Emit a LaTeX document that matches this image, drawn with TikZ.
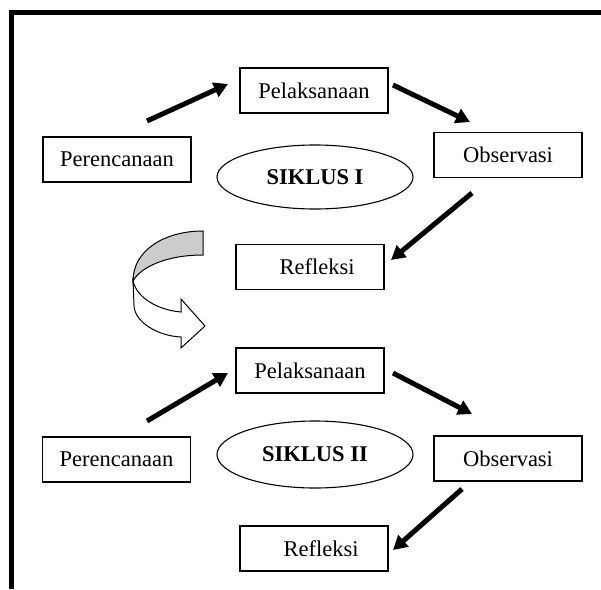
\documentclass[tikz,border=0pt]{standalone}
\usepackage{fontspec}
\setmainfont{Liberation Serif}
\usetikzlibrary{arrows.meta,shapes.geometric}
\tikzset{
  stagebox/.style={draw=black, line width=1.1pt, rectangle, minimum width=148pt, minimum height=45pt, inner sep=0pt, font=\fontsize{22.5}{27}\selectfont},
  cyclebox/.style={draw=black, line width=1.1pt, ellipse, minimum width=196pt, inner sep=0pt, font=\fontsize{22.5}{27}\selectfont\bfseries},
  flow/.style={line width=5pt, -{Triangle[length=14pt,width=15pt]}},
  frameline/.style={line width=5.5pt}
}
\begin{document}
\begin{tikzpicture}[x=1pt,y=-1pt]
\useasboundingbox (0,0) rectangle (601,589);
% frame
\coordinate (ftl) at (11.5,12.5);
\coordinate (ftr) at (601,12.5);
\coordinate (fbl) at (11.5,589);
\draw[frameline] (ftr) -- (8.75,12.5);
\draw[frameline] (11.5,9.75) -- (fbl);

% cycle I
\node[stagebox] (pel1) at (314,90.5) {Pelaksanaan};
\node[stagebox] (per1) at (117,159.5) {Perencanaan};
\node[stagebox] (obs1) at (508,155) {Observasi};
\node[stagebox] (ref1) at (310,267) {\hspace{14pt}Refleksi};
\node[cyclebox, minimum height=64pt] (ell1) at (315,177) {SIKLUS I};

\coordinate (a1s) at (147,121); \coordinate (a1e) at (228,84);
\coordinate (a2s) at (393,85);  \coordinate (a2e) at (470,122);
\coordinate (a3s) at (472,193); \coordinate (a3e) at (391,260);
\draw[flow] (a1s) -- (a1e);
\draw[flow] (a2s) -- (a2e);
\draw[flow] (a3s) -- (a3e);

% curved transition arrow
\draw[line width=1pt, fill=black!20] (203,231) .. controls (165,231) and (133,250) .. (133,281)
  .. controls (140,268) and (165,255) .. (203,255) -- cycle;
\draw[line width=1pt, fill=white] (133,281) .. controls (137,298) and (158,310) .. (181,312)
  -- (181,299) -- (205,326) -- (181,348) -- (181,337)
  .. controls (158,336) and (134,322) .. (134,305) -- cycle;

% cycle II
\node[stagebox] (pel2) at (310,370.5) {Pelaksanaan};
\node[stagebox] (per2) at (116.5,459.5) {Perencanaan};
\node[stagebox] (obs2) at (508,458.5) {Observasi};
\node[stagebox] (ref2) at (314,548.5) {\hspace{14pt}Refleksi};
\node[cyclebox, minimum height=67pt] (ell2) at (315,454.5) {SIKLUS II};

\coordinate (b1s) at (147,421); \coordinate (b1e) at (228,373);
\coordinate (b2s) at (393,373); \coordinate (b2e) at (472,414);
\coordinate (b3s) at (462,489); \coordinate (b3e) at (393,550);
\draw[flow] (b1s) -- (b1e);
\draw[flow] (b2s) -- (b2e);
\draw[flow] (b3s) -- (b3e);
\end{tikzpicture}
\end{document}
